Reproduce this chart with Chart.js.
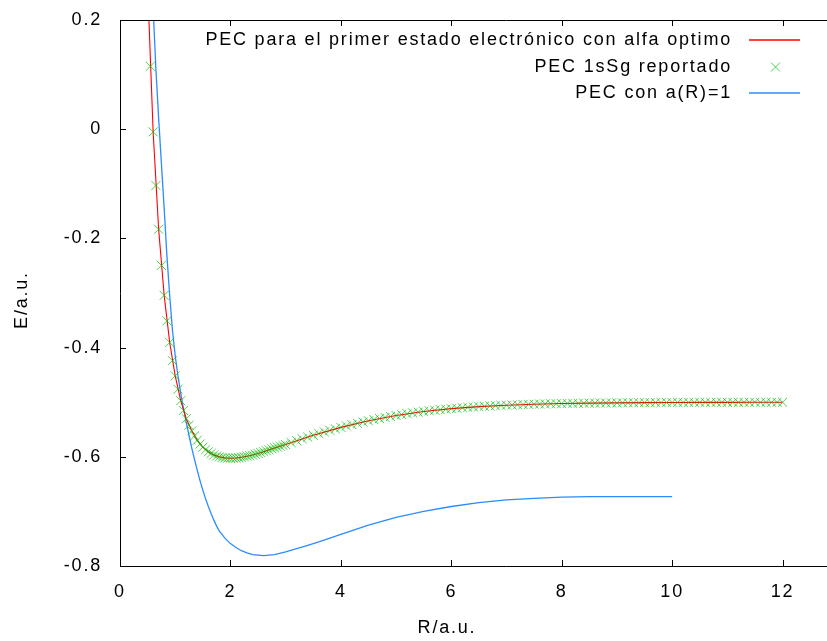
<!DOCTYPE html>
<html>
<head>
<meta charset="utf-8">
<script src="https://cdn.jsdelivr.net/npm/chart.js@4.4.0/dist/chart.umd.min.js"></script>
<style>
  html, body { margin: 0; padding: 0; background: #fff; overflow: hidden; }
  #wrap { position: absolute; left: 0; top: 0; width: 910px; height: 641px; }
</style>
</head>
<body>
<div id="wrap"><canvas id="pecChart" width="910" height="641"></canvas></div>
<script>
// PEC con alfa optimo (linea roja)
const optR = [0.5, 0.6, 0.7, 0.8, 0.9, 1.0, 1.1, 1.2, 1.3, 1.4, 1.5, 1.6, 1.7, 1.8, 1.9, 2.0, 2.1, 2.2, 2.3, 2.4, 2.5, 2.6, 2.7, 2.8, 2.9, 3.0,
  3.5, 4.0, 4.5, 5.0, 5.5, 6.0, 6.5, 7.0, 7.5, 8.0, 8.5, 9.0, 9.5, 10.0, 10.5, 11.0, 11.5, 12.0];
const optE = [0.2652, -0.0048, -0.1832, -0.3044, -0.3906, -0.4518, -0.4973, -0.5302, -0.5525, -0.5697,
  -0.5824, -0.5908, -0.5965, -0.6001, -0.6020, -0.6026, -0.6021, -0.6009, -0.5990, -0.5967,
  -0.5939, -0.5906, -0.5872, -0.5838, -0.5806, -0.5776,
  -0.5606, -0.5461, -0.5341, -0.5244, -0.5170, -0.5118, -0.5081, -0.5055, -0.5037, -0.5025,
  -0.5017, -0.5012, -0.5008, -0.5006, -0.5004, -0.5003, -0.5002, -0.5002];

// PEC 1sSg reportado (puntos verdes)
const repR = [0.55, 0.60, 0.65, 0.70, 0.75, 0.80, 0.85, 0.90, 0.95, 1.00,
  1.05, 1.10, 1.15, 1.20, 1.25, 1.30, 1.35, 1.40, 1.45, 1.50,
  1.55, 1.60, 1.65, 1.70, 1.75, 1.80, 1.85, 1.90, 1.95, 2.00,
  2.05, 2.10, 2.15, 2.20, 2.25, 2.30, 2.35, 2.40, 2.45, 2.50,
  2.55, 2.60, 2.65, 2.70, 2.75, 2.80, 2.85, 2.90, 2.95, 3.00,
  3.1, 3.2, 3.3, 3.4, 3.5, 3.6, 3.7, 3.8, 3.9, 4.0,
  4.1, 4.2, 4.3, 4.4, 4.5, 4.6, 4.7, 4.8, 4.9, 5.0,
  5.1, 5.2, 5.3, 5.4, 5.5, 5.6, 5.7, 5.8, 5.9, 6.0,
  6.1, 6.2, 6.3, 6.4, 6.5, 6.6, 6.7, 6.8, 6.9, 7.0,
  7.1, 7.2, 7.3, 7.4, 7.5, 7.6, 7.7, 7.8, 7.9, 8.0,
  8.1, 8.2, 8.3, 8.4, 8.5, 8.6, 8.7, 8.8, 8.9, 9.0,
  9.1, 9.2, 9.3, 9.4, 9.5, 9.6, 9.7, 9.8, 9.9, 10.0,
  10.1, 10.2, 10.3, 10.4, 10.5, 10.6, 10.7, 10.8, 10.9, 11.0,
  11.1, 11.2, 11.3, 11.4, 11.5, 11.6, 11.7, 11.8, 11.9, 12.0];
const repE = [0.1153, -0.0048, -0.1031, -0.1832, -0.2495, -0.3044, -0.3510, -0.3906, -0.4240, -0.4518,
  -0.4763, -0.4973, -0.5150, -0.5302, -0.5421, -0.5525, -0.5617, -0.5697, -0.5766, -0.5824,
  -0.5870, -0.5908, -0.5939, -0.5965, -0.5986, -0.6001, -0.6013, -0.6020, -0.6025, -0.6026,
  -0.6025, -0.6021, -0.6016, -0.6009, -0.6000, -0.5990, -0.5979, -0.5967, -0.5953, -0.5939,
  -0.5923, -0.5906, -0.5889, -0.5872, -0.5855, -0.5838, -0.5822, -0.5806, -0.5791, -0.5776,
  -0.5741, -0.5706, -0.5672, -0.5639, -0.5606, -0.5575, -0.5545, -0.5516, -0.5488, -0.5461,
  -0.5435, -0.5410, -0.5386, -0.5363, -0.5341, -0.5320, -0.5300, -0.5280, -0.5262, -0.5244,
  -0.5228, -0.5212, -0.5197, -0.5183, -0.5170, -0.5158, -0.5147, -0.5137, -0.5127, -0.5118,
  -0.5110, -0.5102, -0.5094, -0.5087, -0.5081, -0.5075, -0.5069, -0.5064, -0.5059, -0.5055,
  -0.5051, -0.5047, -0.5043, -0.5040, -0.5037, -0.5034, -0.5032, -0.5029, -0.5027, -0.5025,
  -0.5023, -0.5022, -0.5020, -0.5019, -0.5017, -0.5016, -0.5015, -0.5014, -0.5013, -0.5012,
  -0.5011, -0.5010, -0.5010, -0.5009, -0.5008, -0.5008, -0.5007, -0.5007, -0.5006, -0.5006,
  -0.5005, -0.5005, -0.5005, -0.5004, -0.5004, -0.5004, -0.5004, -0.5003, -0.5003, -0.5003,
  -0.5003, -0.5003, -0.5003, -0.5002, -0.5002, -0.5002, -0.5002, -0.5002, -0.5002, -0.5002];

// PEC con a(R)=1 (linea azul)
const a1R = [0.55, 0.60, 0.65, 0.70, 0.75, 0.80, 0.85, 0.90, 0.95, 1.00,
  1.05, 1.10, 1.15, 1.20, 1.25, 1.30, 1.35, 1.40, 1.45, 1.50,
  1.55, 1.60, 1.65, 1.70, 1.75, 1.80, 1.90, 2.00, 2.10, 2.20,
  2.30, 2.40, 2.50, 2.60, 2.70, 2.80, 3.00, 3.20, 3.40, 3.60,
  3.80, 4.00, 4.50, 5.00, 5.50, 6.00, 6.50, 7.00, 7.50, 8.00,
  8.50, 9.00, 9.50, 10.00];
const a1E = [0.340, 0.222, 0.110, 0.020, -0.063, -0.145, -0.232, -0.305, -0.368, -0.415,
  -0.452, -0.484, -0.512, -0.537, -0.561, -0.584, -0.605, -0.625, -0.644, -0.661,
  -0.677, -0.691, -0.704, -0.716, -0.727, -0.736, -0.749, -0.759, -0.766, -0.772,
  -0.776, -0.779, -0.780, -0.781, -0.780, -0.779, -0.774, -0.768, -0.762, -0.756,
  -0.749, -0.742, -0.725, -0.711, -0.700, -0.691, -0.684, -0.679, -0.676, -0.674,
  -0.673, -0.673, -0.673, -0.673];

const seriesLabels = [
  "PEC para el primer estado electrónico con alfa optimo",
  "PEC 1sSg reportado",
  "PEC con a(R)=1"
];
const seriesColors = ["#ff0000", "rgba(0,190,0,0.7)", "#2b8cff"];
const xTicks = [0, 2, 4, 6, 8, 10, 12, 14];
const yTicks = [-0.8, -0.6, -0.4, -0.2, 0, 0.2];
const xTitle = "R/a.u.";
const yTitle = "E/a.u.";

const FONT_FAMILY = '"Liberation Sans", Arial, sans-serif';
const FONT_SIZE = 18;
const SPACING = "1.8px";

function toPoints(xs, ys) {
  return xs.map((x, i) => ({ x: x, y: ys[i] }));
}

// marco estilo gnuplot: ejes, ticks hacia dentro, leyenda y titulos
const gnuplotFrame = {
  id: "gnuplotFrame",
  beforeUpdate(chart) {
    chart.ctx.letterSpacing = SPACING;
  },
  beforeDraw(chart) {
    chart.ctx.letterSpacing = SPACING;
  },
  afterDraw(chart) {
    const ctx = chart.ctx;
    const a = chart.chartArea;
    const xs = chart.scales.x;
    const ys = chart.scales.y;

    ctx.save();
    ctx.strokeStyle = "#000";
    ctx.lineWidth = 1;
    ctx.beginPath();
    ctx.moveTo(a.left + 0.5, a.top + 0.5);
    ctx.lineTo(a.left + 0.5, a.bottom + 0.5);
    ctx.lineTo(a.right, a.bottom + 0.5);
    ctx.moveTo(a.left, a.top + 0.5);
    ctx.lineTo(a.right, a.top + 0.5);
    xs.ticks.forEach((t) => {
      const px = Math.round(xs.getPixelForValue(t.value)) + 0.5;
      ctx.moveTo(px, a.bottom);
      ctx.lineTo(px, a.bottom - 6);
      ctx.moveTo(px, a.top);
      ctx.lineTo(px, a.top + 6);
    });
    ys.ticks.forEach((t) => {
      const py = Math.round(ys.getPixelForValue(t.value)) + 0.5;
      ctx.moveTo(a.left, py);
      ctx.lineTo(a.left + 6, py);
    });
    ctx.stroke();

    // leyenda
    ctx.font = FONT_SIZE + "px " + FONT_FAMILY;
    ctx.textAlign = "right";
    ctx.textBaseline = "middle";
    seriesLabels.forEach((label, i) => {
      const y = Math.round(a.top + 20 + i * 26.5);
      ctx.fillStyle = "#000";
      ctx.fillText(label, a.right - 161, y);
      const x0 = Math.round(a.right - 144);
      const x1 = Math.round(a.right - 93);
      ctx.strokeStyle = seriesColors[i];
      ctx.beginPath();
      if (i !== 1) {
        ctx.lineWidth = 1.6;
        ctx.moveTo(x0, y);
        ctx.lineTo(x1, y);
      } else {
        const cx = Math.round((x0 + x1) / 2) + 0.5;
        ctx.lineWidth = 1;
        ctx.moveTo(cx - 4.5, y - 4.5);
        ctx.lineTo(cx + 4.5, y + 4.5);
        ctx.moveTo(cx - 4.5, y + 4.5);
        ctx.lineTo(cx + 4.5, y - 4.5);
      }
      ctx.stroke();
    });

    // titulos de ejes
    ctx.fillStyle = "#000";
    ctx.textAlign = "center";
    ctx.fillText(xTitle, a.left + 327, a.bottom + 62);
    ctx.translate(a.left - 98, (a.top + a.bottom) / 2 + 7);
    ctx.rotate(-Math.PI / 2);
    ctx.fillText(yTitle, 0, 0);
    ctx.restore();
  }
};

const tickFont = { family: FONT_FAMILY, size: FONT_SIZE };

new Chart(document.getElementById("pecChart"), {
  type: "scatter",
  data: {
    datasets: [
      {
        label: seriesLabels[0],
        data: toPoints(optR, optE),
        showLine: true,
        borderColor: seriesColors[0],
        borderWidth: 1.1,
        pointRadius: 0,
        order: 1
      },
      {
        label: seriesLabels[1],
        data: toPoints(repR, repE),
        showLine: false,
        pointStyle: "crossRot",
        pointRadius: 6.4,
        borderColor: seriesColors[1],
        backgroundColor: seriesColors[1],
        borderWidth: 1,
        order: 0
      },
      {
        label: seriesLabels[2],
        data: toPoints(a1R, a1E),
        showLine: true,
        borderColor: seriesColors[2],
        borderWidth: 1.3,
        pointRadius: 0,
        order: 2
      }
    ]
  },
  options: {
    responsive: false,
    animation: false,
    events: [],
    layout: { autoPadding: false, padding: { top: 20, right: 17, left: 0, bottom: 0 } },
    plugins: {
      legend: { display: false },
      tooltip: { enabled: false }
    },
    scales: {
      x: {
        type: "linear",
        min: 0,
        max: 14,
        afterBuildTicks: (s) => { s.ticks = xTicks.map((v) => ({ value: v })); },
        afterFit: (s) => {
          s.height = 75;
          s.paddingLeft = 0;
          s.paddingRight = 0;
        },
        grid: { display: false, drawTicks: false },
        border: { display: false },
        ticks: { padding: 15, color: "#000", font: tickFont, maxRotation: 0 }
      },
      y: {
        type: "linear",
        min: -0.8,
        max: 0.2,
        afterBuildTicks: (s) => { s.ticks = yTicks.map((v) => ({ value: v })); },
        afterFit: (s) => {
          s.width = 120;
          s.paddingTop = 0;
          s.paddingBottom = 0;
        },
        grid: { display: false, drawTicks: false },
        border: { display: false },
        ticks: {
          padding: 18,
          color: "#000",
          font: tickFont,
          callback: (v) => (Math.abs(v) < 1e-9 ? "0" : Number(v).toFixed(1))
        }
      }
    }
  },
  plugins: [gnuplotFrame]
});
</script>
</body>
</html>
